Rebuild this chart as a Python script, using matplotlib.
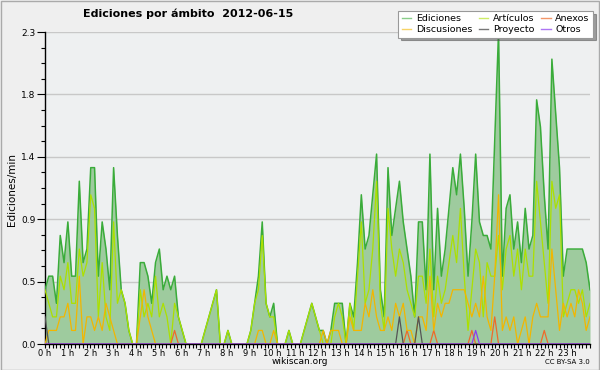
import numpy as np
import matplotlib.pyplot as plt
from matplotlib.lines import Line2D

# Ediciones por minuto, un valor cada 10 minutos (6 por hora)
ediciones = [
    0.4, 0.5, 0.5, 0.3, 0.8, 0.6,   # 0 h
    0.9, 0.5, 0.5, 1.2, 0.6, 0.7,   # 1 h
    1.3, 1.3, 0.5, 0.9, 0.7, 0.4,   # 2 h
    1.3, 0.8, 0.4, 0.3, 0.1, 0.0,   # 3 h
    0.0, 0.6, 0.6, 0.5, 0.3, 0.6,   # 4 h
    0.7, 0.4, 0.5, 0.4, 0.5, 0.2,   # 5 h
    0.1, 0.0, 0.0, 0.0, 0.0, 0.0,   # 6 h
    0.1, 0.2, 0.3, 0.4, 0.0, 0.0,   # 7 h
    0.1, 0.0, 0.0, 0.0, 0.0, 0.0,   # 8 h
    0.1, 0.3, 0.5, 0.9, 0.3, 0.2,   # 9 h
    0.3, 0.0, 0.0, 0.0, 0.1, 0.0,   # 10 h
    0.0, 0.0, 0.1, 0.2, 0.3, 0.2,   # 11 h
    0.1, 0.1, 0.0, 0.1, 0.3, 0.3,   # 12 h
    0.3, 0.0, 0.3, 0.2, 0.6, 1.1,   # 13 h
    0.7, 0.8, 1.1, 1.4, 0.4, 0.2,   # 14 h
    1.3, 0.8, 1.0, 1.2, 0.9, 0.7,   # 15 h
    0.5, 0.2, 0.9, 0.9, 0.4, 1.4,   # 16 h
    0.4, 1.0, 0.5, 0.7, 1.0, 1.3,   # 17 h
    1.1, 1.4, 1.0, 0.5, 0.9, 1.4,   # 18 h
    0.9, 0.8, 0.8, 0.7, 1.5, 2.3,   # 19 h
    0.5, 1.0, 1.1, 0.7, 0.9, 0.6,   # 20 h
    1.0, 0.7, 0.8, 1.8, 1.6, 1.1,   # 21 h
    0.7, 2.1, 1.7, 1.3, 0.5, 0.7,   # 22 h
    0.7, 0.7, 0.7, 0.7, 0.6, 0.4,   # 23 h
]

articulos = [
    0.4, 0.3, 0.2, 0.2, 0.5, 0.4,
    0.6, 0.3, 0.3, 0.7, 0.5, 0.6,
    1.1, 1.0, 0.2, 0.6, 0.2, 0.1,
    0.9, 0.3, 0.4, 0.3, 0.1, 0.0,
    0.0, 0.4, 0.2, 0.3, 0.2, 0.5,
    0.2, 0.3, 0.2, 0.0, 0.3, 0.2,
    0.1, 0.0, 0.0, 0.0, 0.0, 0.0,
    0.1, 0.2, 0.3, 0.4, 0.0, 0.0,
    0.1, 0.0, 0.0, 0.0, 0.0, 0.0,
    0.1, 0.3, 0.4, 0.8, 0.3, 0.2,
    0.2, 0.0, 0.0, 0.0, 0.1, 0.0,
    0.0, 0.0, 0.1, 0.2, 0.3, 0.2,
    0.1, 0.0, 0.0, 0.0, 0.2, 0.3,
    0.2, 0.0, 0.3, 0.1, 0.5, 0.9,
    0.3, 0.4, 0.7, 1.2, 0.3, 0.1,
    1.0, 0.7, 0.5, 0.7, 0.6, 0.4,
    0.3, 0.2, 0.5, 0.5, 0.3, 0.7,
    0.2, 0.5, 0.3, 0.4, 0.6, 0.8,
    0.6, 1.0, 0.5, 0.1, 0.4, 0.7,
    0.6, 0.2, 0.6, 0.5, 0.5, 0.8,
    0.4, 0.7, 0.8, 0.5, 0.7, 0.4,
    0.7, 0.5, 0.5, 1.2, 0.9, 0.6,
    0.3, 1.2, 1.0, 1.1, 0.2, 0.3,
    0.4, 0.4, 0.3, 0.4, 0.2, 0.3,
]

discusiones = [
    0.0, 0.1, 0.1, 0.1, 0.2, 0.2,
    0.3, 0.1, 0.1, 0.5, 0.0, 0.2,
    0.2, 0.1, 0.2, 0.1, 0.3, 0.2,
    0.1, 0.0, 0.0, 0.0, 0.0, 0.0,
    0.0, 0.2, 0.4, 0.2, 0.1, 0.0,
    0.0, 0.0, 0.0, 0.0, 0.0, 0.0,
    0.0, 0.0, 0.0, 0.0, 0.0, 0.0,
    0.0, 0.0, 0.0, 0.0, 0.0, 0.0,
    0.0, 0.0, 0.0, 0.0, 0.0, 0.0,
    0.0, 0.0, 0.1, 0.1, 0.0, 0.0,
    0.1, 0.0, 0.0, 0.0, 0.0, 0.0,
    0.0, 0.0, 0.0, 0.0, 0.0, 0.0,
    0.0, 0.1, 0.0, 0.1, 0.1, 0.1,
    0.0, 0.0, 0.2, 0.1, 0.1, 0.1,
    0.3, 0.2, 0.4, 0.2, 0.1, 0.1,
    0.2, 0.1, 0.3, 0.2, 0.3, 0.1,
    0.1, 0.0, 0.2, 0.2, 0.1, 0.5,
    0.1, 0.3, 0.2, 0.3, 0.3, 0.4,
    0.4, 0.4, 0.4, 0.3, 0.2, 0.3,
    0.2, 0.5, 0.2, 0.1, 0.5, 1.1,
    0.1, 0.2, 0.1, 0.2, 0.0, 0.1,
    0.2, 0.0, 0.2, 0.3, 0.2, 0.2,
    0.2, 0.7, 0.4, 0.1, 0.3, 0.2,
    0.3, 0.2, 0.4, 0.3, 0.1, 0.2,
]

# series casi vacias: solo los puntos distintos de cero (indice -> valor)
anexos_pts = {34: 0.1, 95: 0.1, 102: 0.1, 112: 0.1, 118: 0.2, 131: 0.1}
proyecto_pts = {0: 0.2, 93: 0.2, 98: 0.2}
otros_pts = {113: 0.1}

horas = [f"{h} h" for h in range(24)]

anexos = [0.0] * 144
proyecto = [0.0] * 144
otros = [0.0] * 144
for k, v in anexos_pts.items():
    anexos[k] = v
for k, v in proyecto_pts.items():
    proyecto[k] = v
for k, v in otros_pts.items():
    otros[k] = v

c_tot = '#3aac3a'
c_fill = '#9ecb9e'
c_art = '#ace000'
c_disc = '#f2b600'
c_anx = '#ee6a2a'
c_proy = '#555555'
c_otr = '#8a3cf0'

x = np.arange(len(ediciones))
n = len(ediciones) - 1

fig = plt.figure(figsize=(6, 3.7), dpi=100, facecolor='#efefef')
ax = fig.add_axes([45/600, 1-344/370, 545/600, 312/370])
ax.set_facecolor('#eef0f1')

ax.fill_between(x, ediciones, 0, color=c_fill, lw=0, zorder=2)
ax.plot(x, ediciones, color=c_tot, lw=1.1, zorder=3)
ax.plot(x, articulos, color=c_art, lw=0.9, zorder=4)
ax.plot(x, anexos, color=c_anx, lw=0.9, zorder=4)
ax.plot(x, discusiones, color=c_disc, lw=0.9, zorder=5)
ax.plot(x, proyecto, color=c_proy, lw=0.9, zorder=5)
ax.plot(x, otros, color=c_otr, lw=0.9, zorder=5)

ax.set_xlim(0, n)
ax.set_ylim(0, 2.3)

yt = np.linspace(0, 2.3, 6)
ax.set_yticks(yt)
ax.set_yticklabels([f"{v:.1f}" for v in yt])
ax.set_yticks(np.linspace(0, 2.3, 21), minor=True)
ax.grid(axis='y', which='major', color='#c8c8c8', lw=1, zorder=1)

ax.set_xticks([h * n / 24 for h in range(24)])
ax.set_xticklabels(horas)
ax.set_xticks([k * n / 144 for k in range(145)], minor=True)

ax.tick_params(axis='y', which='major', length=6, width=0.8, labelsize=6.5, pad=1, color='black')
ax.tick_params(axis='y', which='minor', length=3, width=0.8)
ax.tick_params(axis='x', which='major', length=3, width=0.8, labelsize=6, pad=0.5)
ax.tick_params(axis='x', which='minor', length=3, width=0.8)

for s in ['top', 'right']:
    ax.spines[s].set_visible(False)
ax.spines['left'].set_linewidth(1)
ax.spines['bottom'].set_linewidth(1)

fig.text(188/600, 1-14/370, 'Ediciones por ámbito  2012-06-15', ha='center', va='center',
         fontsize=8, fontweight='bold')
fig.text(12/600, 1-190/370, 'Ediciones/min', rotation=90, ha='center', va='center', fontsize=7.5)
fig.text(300/600, 1-362/370, 'wikiscan.org', ha='center', va='center', fontsize=6.5)
fig.text(590/600, 1-362/370, 'CC BY-SA 3.0', ha='right', va='center', fontsize=5)

handles = [
    Line2D([], [], color=c_tot, alpha=0.6, lw=1, label='Ediciones'),
    Line2D([], [], color=c_disc, alpha=0.6, lw=1, label='Discusiones'),
    Line2D([], [], color=c_art, alpha=0.6, lw=1, label='Artículos'),
    Line2D([], [], color=c_proy, alpha=0.8, lw=1, label='Proyecto'),
    Line2D([], [], color=c_anx, alpha=0.7, lw=1, label='Anexos'),
    Line2D([], [], color=c_otr, alpha=0.7, lw=1, label='Otros'),
]
leg = fig.legend(handles=handles, ncol=3, loc='upper right', bbox_to_anchor=(593/600, 1-11/370),
                 fontsize=6.8, frameon=True, fancybox=False, shadow=True, handlelength=1.0,
                 handletextpad=0.5, columnspacing=0.7, labelspacing=0.2, borderpad=0.35,
                 borderaxespad=0)
leg.get_frame().set_edgecolor('#999999')
leg.get_frame().set_linewidth(0.8)
leg.set_zorder(10)

fig.patches.append(plt.Rectangle((0.001, 0.001), 0.998, 0.997, transform=fig.transFigure,
                                 fill=False, edgecolor='#aaaaaa', lw=1))

fig.savefig('out.png', dpi=100, facecolor=fig.get_facecolor())
